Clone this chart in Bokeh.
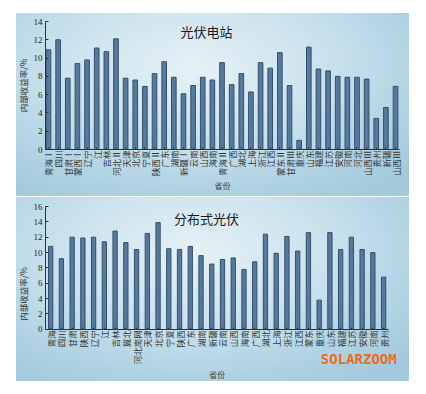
import math
from bokeh.plotting import figure
from bokeh.layouts import column
from bokeh.models import Range1d, FixedTicker, Label
from bokeh.embed import file_html
from bokeh.resources import INLINE

# ---- data ----
station_provinces = ["青海Ⅰ", "四川", "甘肃Ⅰ", "蒙西Ⅰ", "辽宁", "江", "吉林", "河北Ⅱ",
                     "天津", "北京", "宁夏", "陕西Ⅱ", "广东", "湖南", "新疆Ⅰ", "云南",
                     "山西", "海南", "青海Ⅱ", "广西", "湖北", "上海", "浙江", "江西",
                     "蒙东Ⅱ", "甘肃Ⅲ", "重庆", "山东", "福建", "江苏", "安徽", "河南",
                     "河北", "山西Ⅲ", "贵州", "新疆", "山西Ⅲ"]
station_irr = [10.9, 12.0, 7.8, 9.4, 9.8, 11.1, 10.7, 12.1,
               7.8, 7.6, 6.9, 8.3, 9.6, 7.9, 6.1, 7.0,
               7.9, 7.6, 9.5, 7.1, 8.3, 6.3, 9.5, 8.9,
               10.6, 7.0, 1.0, 11.2, 8.8, 8.6, 8.0, 7.9,
               7.9, 7.7, 3.4, 4.6, 6.9]

dist_provinces = ["青海", "四川", "甘肃", "陕西", "辽宁", "江", "吉林", "冀北",
                  "河北南网", "天津", "北京", "宁夏", "陕西", "广东", "湖南", "新疆",
                  "云南", "山西", "海南", "广西", "湖北", "上海", "浙江", "江西",
                  "蒙东", "重庆", "山东", "福建", "江苏", "安徽", "河南", "贵州"]
dist_irr = [10.8, 9.2, 12.0, 11.9, 12.0, 11.4, 12.8, 11.3,
            10.4, 12.5, 13.9, 10.5, 10.4, 10.8, 9.6, 8.5,
            9.1, 9.3, 7.8, 8.8, 12.4, 9.9, 12.1, 10.2,
            12.6, 3.8, 12.6, 10.4, 12.0, 10.4, 10.0, 6.8]

station_title = "光伏电站"
dist_title = "分布式光伏"
y_label = "内部收益率/%"
x_label = "省份"
brand = "SOLARZOOM"

GRAD = ("radial-gradient(ellipse 75% 85% at 45% 30%, #e6f1f6 0%, #cbe2ed 45%, "
        "#b2d4e4 75%, #a2c9dc 100%)")
BAR_FILL = "#56799e"
BAR_LINE = "#33506e"
AX = "#333333"


def make_panel(names, vals, ymax, ymin, title, w, h, bg_off, bg_h, borders, xpad,
               xext, bar_w, title_xy, fixed_x):
    n = len(names)
    p = figure(width=w, height=h, output_backend="svg", toolbar_location=None,
               x_range=Range1d(-xpad[0], n - 1 + xext),
               y_range=Range1d(ymin, ymax),
               min_border_left=borders[0], min_border_right=borders[1],
               min_border_top=borders[2], min_border_bottom=borders[3])
    p.styles = {"background": f"{GRAD} {bg_off[0]}px {bg_off[1]}px / "
                              f"{w - bg_off[0]}px {bg_h}px no-repeat"}
    p.background_fill_alpha = 0
    p.border_fill_alpha = 0
    p.outline_line_color = None
    p.grid.visible = False
    xs = list(range(n))
    p.vbar(x=xs, top=vals, width=bar_w, bottom=0, fill_color=BAR_FILL,
           line_color=BAR_LINE, line_width=1)

    # y axis
    ya = p.yaxis[0]
    ya.ticker = FixedTicker(ticks=list(range(0, ymax + 1, 2)))
    ya.bounds = (0, ymax)
    ya.minor_tick_line_color = None
    ya.major_tick_in = 3
    ya.major_tick_out = 0
    ya.axis_line_color = AX
    ya.major_tick_line_color = AX
    ya.major_label_text_font = "Liberation Serif"
    ya.major_label_text_font_size = "9px"
    ya.major_label_text_color = "#222222"
    ya.major_label_standoff = 3
    ya.axis_label = y_label
    ya.axis_label_text_font = "Noto Sans CJK SC"
    ya.axis_label_text_font_size = "8.5px"
    ya.axis_label_text_font_style = "normal"
    ya.axis_label_text_color = "#333333"
    ya.axis_label_standoff = 2

    # x axis
    xa = p.xaxis[0]
    if fixed_x:
        xa.fixed_location = 0
    xa.bounds = (-xpad[0], n - 1 + xpad[1])
    xa.ticker = FixedTicker(ticks=xs)
    xa.major_label_overrides = {i: s for i, s in enumerate(names)}
    xa.major_label_orientation = math.pi / 2
    xa.minor_tick_line_color = None
    xa.major_tick_in = 2
    xa.major_tick_out = 0
    xa.axis_line_color = AX
    xa.major_tick_line_color = AX
    xa.major_label_text_font = "Noto Sans CJK SC"
    xa.major_label_text_font_size = "8.5px"
    xa.major_label_text_color = "#333333"
    xa.major_label_standoff = 1
    xa.axis_label = x_label
    xa.axis_label_text_font = "Noto Sans CJK SC"
    xa.axis_label_text_font_size = "8px"
    xa.axis_label_text_font_style = "normal"
    xa.axis_label_text_color = "#444444"
    xa.axis_label_standoff = 1

    p.add_layout(Label(x=title_xy[0], y=title_xy[1], text=title,
                       text_font="Noto Sans CJK SC", text_font_size="13px",
                       text_color="#1a1a1a", text_align="center",
                       text_baseline="middle"))
    return p


p1 = make_panel(station_provinces, station_irr, 14, 0, station_title, 409, 196,
                (16, 13), 183, (42, 10, 21, 47), (0.31, 0.41), 0.41, 0.48,
                (16.4, 12.9), False)
p2 = make_panel(dist_provinces, dist_irr, 16, -6.8, dist_title, 409, 185,
                (16, 1), 184, (45, 0, 10, 0), (0.48, 0.46), 1.48, 0.40,
                (14.5, 14.45), True)

p2.add_layout(Label(x=len(dist_provinces) - 1 + 1.22, y=-3.9, text=brand,
                    text_font="DejaVu Sans Mono", text_font_size="14px",
                    text_font_style="bold", text_color="#f06a1c",
                    text_align="right", text_baseline="middle"))

layout = column(p1, p2, spacing=0)

open("out.html", "w").write(file_html(layout, INLINE))
